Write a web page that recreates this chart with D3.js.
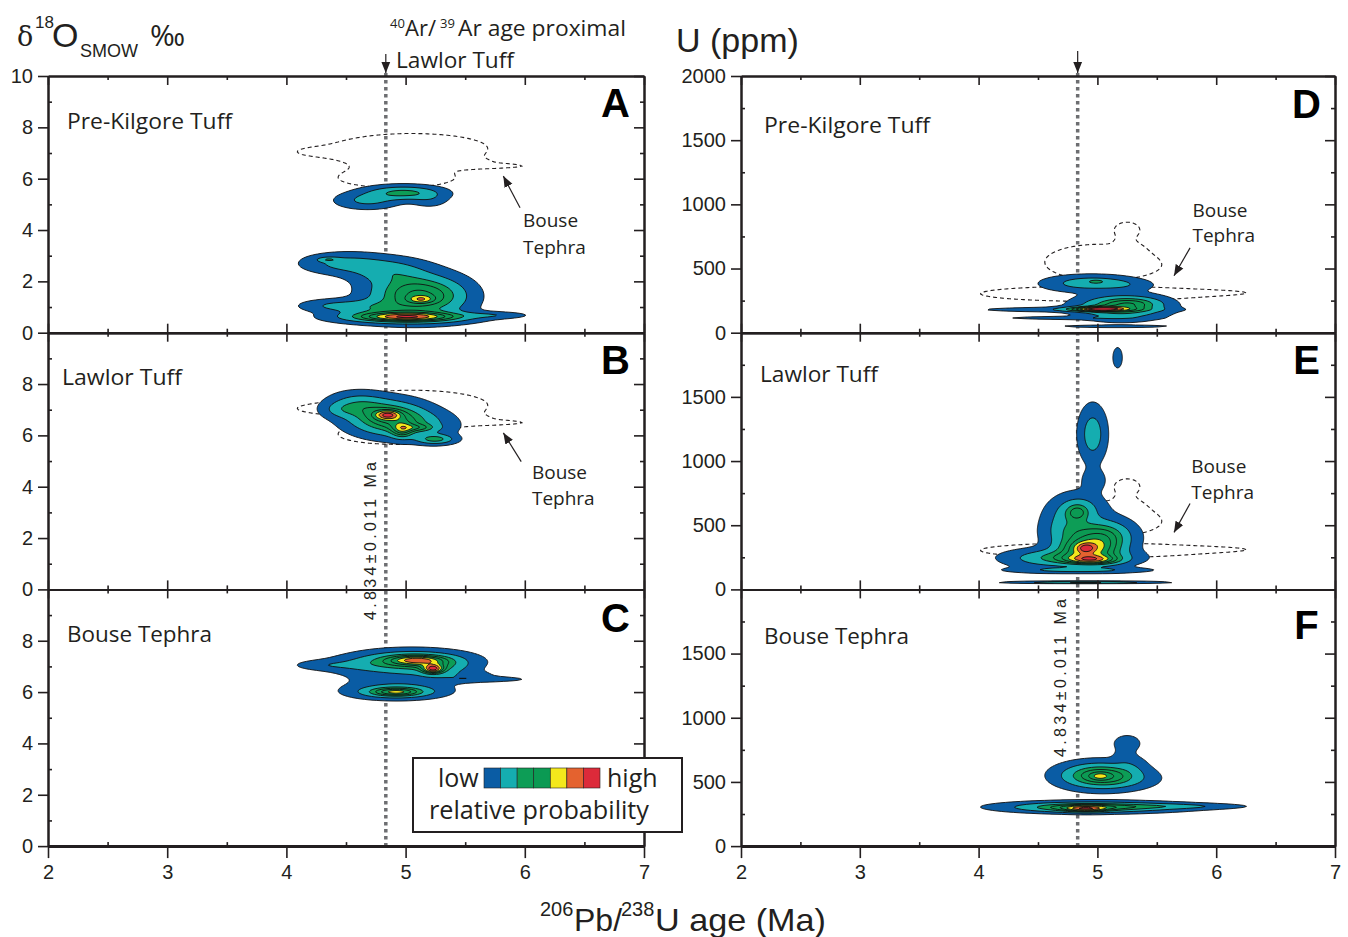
<!DOCTYPE html>
<html>
<head>
<meta charset="utf-8">
<script src="https://cdn.jsdelivr.net/npm/d3@7"></script>
<style>
body{margin:0;background:#fff}
svg{display:block}
.ax .domain{stroke:#231f20;stroke-width:2}
.ax line{stroke:#231f20;stroke-width:1.6}
.ax text{fill:#231f20;font-size:20px;font-family:"Liberation Sans",Arial,sans-serif}
</style>
</head>
<body>
<div id="plot"></div>
<script>
// axis values
var ageTicks = [2,3,4,5,6,7];
var ageMinor = [2.5,3.5,4.5,5.5,6.5];
var oxTicks = [0,2,4,6,8,10];
var uTicks = [0,500,1000,1500,2000];
var arAge = 4.834;

// density levels (grain-weight units) and their fill colours, low -> high
var probLevels = [0.25,1,2,2.8,3.6,4.4,5.2,6];
var probColors = ['#0a5ca4','#15adb0','#0d9d56','#0b9a53','#0b9a53','#f4e81c','#e4622f','#dc2a3a'];
var legendColors = ['#0a5ca4','#15adb0','#0d9d56','#0b9a53','#f4e81c','#e4622f','#dc2a3a'];

// zircon populations: [age Ma, value, age sigma, value sigma, weight]
var preKilgoreO = [
  [4.98,5.45,0.19,0.17,2.3],[4.68,5.15,0.16,0.2,1.2],[5.2,5.2,0.1,0.2,0.6],
  [4.5,2.7,0.22,0.25,1.3],[4.85,2.4,0.2,0.3,1.3],[4.35,2.85,0.06,0.06,1.3],
  [4.38,1.05,0.17,0.15,0.9],[4.7,1.0,0.2,0.2,1.2],[5.05,1.5,0.22,0.5,3.2],
  [5.13,1.3,0.07,0.1,1.8],[5.3,1.4,0.18,0.45,1.3],[5.72,0.68,0.18,0.08,0.8],
  [5.0,0.62,0.28,0.12,4.0],[5.0,0.6,0.35,0.18,1.5]
];
var lawlorO = [
  [4.85,6.7,0.2,0.4,3.4],[4.85,6.8,0.07,0.12,2.8],[4.97,6.2,0.06,0.2,2.3],
  [5.1,6.3,0.1,0.1,1.5],[5.25,5.85,0.1,0.12,2.2],[4.6,7.2,0.15,0.3,1.5],
  [4.45,7.0,0.1,0.2,0.8],[5.1,6.4,0.2,0.35,1.2]
];
var bouseO = [
  [4.32,7.05,0.16,0.12,0.6],[4.6,7.05,0.2,0.2,0.6],[5.05,7.2,0.28,0.25,3.0],
  [5.1,7.25,0.15,0.12,2.8],[5.23,6.9,0.06,0.12,4.3],[5.3,7.0,0.15,0.2,1.0],
  [5.7,6.5,0.2,0.06,0.6],[5.45,6.6,0.2,0.15,0.6],[4.92,6.0,0.13,0.1,2.4],
  [4.92,6.02,0.22,0.17,2.2],[4.95,6.5,0.3,0.35,0.6]
];
var preKilgoreU = [
  [5.0,390,0.2,35,1.3],[4.99,400,0.04,8,1.0],[4.8,380,0.2,40,0.6],[5.25,370,0.15,30,0.5],
  [4.8,180,0.48,12,0.8],[4.75,115,0.35,8,0.6],[5.15,50,0.3,6,0.7],
  [5.2,200,0.22,55,3.0],[5.0,185,0.15,12,4.5],[5.3,230,0.15,30,1.2]
];
var lawlorU = [
  [5.17,1805,0.03,60,0.6],[4.96,1210,0.07,130,1.6],[4.97,850,0.07,60,0.6],
  [4.85,620,0.13,80,1.5],[4.83,600,0.06,40,1.5],[4.72,500,0.12,100,1.0],
  [4.95,420,0.18,70,2.5],[4.9,320,0.15,50,3.5],[4.9,320,0.05,25,1.5],
  [5.1,380,0.13,100,1.5],[4.8,250,0.3,40,2.0],[4.95,230,0.15,25,3.5],
  [4.85,150,0.35,15,1.2],[4.9,55,0.35,5,2.5],[4.55,230,0.2,50,0.6]
];
var bouseU = [
  [5.25,800,0.07,40,0.8],[5.22,700,0.06,40,0.4],[5.02,550,0.2,60,3.6],[5.02,545,0.05,18,1.0],
  [5.2,520,0.2,50,0.6],[5.3,640,0.08,50,0.4],
  [5.0,305,0.45,26,2.4],[4.85,300,0.3,22,1.5],[4.9,290,0.12,16,2.8],[5.65,310,0.35,14,0.9]
];

var panelKeys = ['A','B','C','D','E','F'];
var panelTitles = ['Pre-Kilgore Tuff','Lawlor Tuff','Bouse Tephra','Pre-Kilgore Tuff','Lawlor Tuff','Bouse Tephra'];
var panelGrains = [preKilgoreO, lawlorO, bouseO, preKilgoreU, lawlorU, bouseU];
var panelOutline = [bouseO, bouseO, null, bouseU, bouseU, null];

var width = 1348, height = 937;
var svg = d3.select('#plot').append('svg')
  .attr('width',width).attr('height',height)
  .style('font-family','"Liberation Sans",Arial,sans-serif');
var defs = svg.append('defs');
defs.append('marker').attr('id','head')
  .attr('viewBox','0 0 10 10').attr('refX',10).attr('refY',5)
  .attr('markerWidth',11).attr('markerHeight',11)
  .attr('markerUnits','userSpaceOnUse').attr('orient','auto')
  .append('path').attr('d','M0,1L10,5L0,9z').attr('fill','#231f20');

var colLeft = [48,741], colWidth = [596,594];
var top0 = 76, panelH = 256.7;
var myriad = '"Open Sans","Noto Sans",sans-serif';

// gaussian density on a 1px grid
function kde(grains, x, y, nx, ny){
  var v = new Float64Array(nx*ny);
  grains.forEach(function(g){
    var cx = x(g[0]), cy = y(g[1]);
    var sx = x(g[0]+g[2]) - cx, sy = cy - y(g[1]+g[3]);
    var j0 = Math.max(0,Math.floor(cy-5*sy)), j1 = Math.min(ny-1,Math.ceil(cy+5*sy));
    var i0 = Math.max(0,Math.floor(cx-5*sx)), i1 = Math.min(nx-1,Math.ceil(cx+5*sx));
    for (var j=j0;j<=j1;j++){
      var dy = (j-cy)/sy;
      for (var i=i0;i<=i1;i++){
        var dx = (i-cx)/sx;
        v[j*nx+i] += g[4]*Math.exp(-0.5*(dx*dx+dy*dy));
      }
    }
  });
  return v;
}

// age marker (dotted) under everything
[0,1].forEach(function(c){
  var x = d3.scaleLinear().domain([2,7]).range([colLeft[c],colLeft[c]+colWidth[c]]);
  svg.append('line')
    .attr('x1',x(arAge)).attr('x2',x(arAge))
    .attr('y1',73).attr('y2',top0+3*panelH)
    .attr('stroke','#6d6e71').attr('stroke-width',3.5).attr('stroke-dasharray','3.5,3.5');
  svg.append('line')
    .attr('x1',x(arAge)).attr('x2',x(arAge))
    .attr('y1',c===0?54:51).attr('y2',73)
    .attr('stroke','#231f20').attr('stroke-width',1.2)
    .attr('marker-end','url(#head)');
});

var titleDy = [45,45,45,49,42,47];
var letterDy = [41,41,43,42,41,50];
var titleW = [165,120,145,166,118,145];

panelKeys.forEach(function(key,k){
  var col = k<3?0:1, row = k%3;
  var maxV = col===0?10:2000;
  var ticks = col===0?oxTicks:uTicks;
  var step = ticks[1]-ticks[0];
  var w = colWidth[col];
  var x = d3.scaleLinear().domain([2,7]).range([0,w]);
  var y = d3.scaleLinear().domain([0,maxV]).range([panelH,0]);
  var g = svg.append('g').attr('transform','translate('+colLeft[col]+','+(top0+row*panelH)+')');

  defs.append('clipPath').attr('id','clip'+key)
    .append('rect').attr('width',w).attr('height',panelH);
  var plotG = g.append('g').attr('clip-path','url(#clip'+key+')');

  var nx = Math.round(w)+1, ny = Math.round(panelH)+1;
  var path = d3.geoPath(d3.geoTransform({point:function(px,py){this.stream.point(px-0.5,py-0.5);}}));

  if (panelOutline[k]){
    var ov = kde(panelOutline[k],x,y,nx,ny);
    plotG.selectAll('path.outline')
      .data(d3.contours().size([nx,ny]).thresholds([probLevels[0]])(ov))
      .enter().append('path').attr('class','outline')
      .attr('d',path).attr('fill','none')
      .attr('stroke','#231f20').attr('stroke-width',1.1).attr('stroke-dasharray','4,3');
  }

  var v = kde(panelGrains[k],x,y,nx,ny);
  plotG.selectAll('path.band')
    .data(d3.contours().size([nx,ny]).thresholds(probLevels)(v))
    .enter().append('path').attr('class','band')
    .attr('d',path)
    .attr('fill',function(d,i){return probColors[i];})
    .attr('stroke','#111').attr('stroke-width',0.9);

  // axes
  var major = ticks.filter(function(t){return row===0 || t<maxV;});
  var minor = d3.range(step/2,maxV,step);
  g.append('g').attr('class','ax')
    .call(d3.axisLeft(y).tickValues(major).tickSize(10).tickSizeOuter(0).tickPadding(5).tickFormat(d3.format('d')));
  g.append('g').attr('class','ax')
    .call(d3.axisLeft(y).tickValues(minor).tickSize(-4).tickSizeOuter(0).tickFormat(''));
  g.append('g').attr('class','ax').attr('transform','translate('+w+',0)')
    .call(d3.axisRight(y).tickValues(ticks).tickSize(-10).tickSizeOuter(0).tickFormat(''));
  g.append('g').attr('class','ax').attr('transform','translate('+w+',0)')
    .call(d3.axisRight(y).tickValues(minor).tickSize(-4).tickSizeOuter(0).tickFormat(''));
  g.append('g').attr('class','ax')
    .call(d3.axisTop(x).tickValues(ageTicks).tickSize(-9).tickSizeOuter(0).tickFormat(''));
  g.append('g').attr('class','ax')
    .call(d3.axisTop(x).tickValues(ageMinor).tickSize(-4).tickSizeOuter(0).tickFormat(''));
  if (row===2){
    var bx = g.append('g').attr('class','ax').attr('transform','translate(0,'+panelH+')')
      .call(d3.axisBottom(x).tickValues(ageTicks).tickSize(12).tickSizeOuter(0).tickPadding(7).tickFormat(d3.format('d')));
    bx.select('.domain').style('stroke-width',3);
  } else {
    g.append('g').attr('class','ax').attr('transform','translate(0,'+panelH+')')
      .call(d3.axisBottom(x).tickValues(ageTicks).tickSize(-9).tickSizeOuter(0).tickFormat(''));
  }
  g.append('g').attr('class','ax').attr('transform','translate(0,'+panelH+')')
    .call(d3.axisBottom(x).tickValues(ageMinor).tickSize(-4).tickSizeOuter(0).tickFormat(''));

  // labels
  g.append('text')
    .attr('x',col===0?(row===1?14:19):(row===1?19:23)).attr('y',titleDy[k])
    .attr('dy','0.35em')
    .attr('textLength',titleW[k]).attr('lengthAdjust','spacingAndGlyphs')
    .style('font-family',myriad).style('font-size','22px').attr('fill','#231f20')
    .text(panelTitles[k]);
  g.append('text')
    .attr('x',x(6.76)).attr('y',letterDy[k])
    .attr('text-anchor','middle')
    .style('font-size','40px').style('font-weight','bold').attr('fill','#000')
    .text(key);
});

// Bouse Tephra pointers: [col, row, text x, text y1, text y2, tail x, tail y, tip x, tip y]
var bouseNotes = [
  [0,0,5.985,4.12,3.07,5.96,4.87,5.82,6.1],
  [0,1,6.06,4.32,3.27,5.97,4.98,5.82,6.1],
  [1,0,5.8,903,708,5.78,661,5.645,444],
  [1,1,5.79,910,708,5.78,669,5.645,444]
];
bouseNotes.forEach(function(n){
  var maxV = n[0]===0?10:2000;
  var x = d3.scaleLinear().domain([2,7]).range([colLeft[n[0]],colLeft[n[0]]+colWidth[n[0]]]);
  var y = d3.scaleLinear().domain([0,maxV]).range([top0+(n[1]+1)*panelH, top0+n[1]*panelH]);
  svg.append('text').attr('x',x(n[2])).attr('y',y(n[3]))
    .style('font-family',myriad).style('font-size','19px').attr('fill','#231f20').text('Bouse');
  svg.append('text').attr('x',x(n[2])).attr('y',y(n[4]))
    .style('font-family',myriad).style('font-size','19px').attr('fill','#231f20').text('Tephra');
  svg.append('line').attr('x1',x(n[5])).attr('y1',y(n[6])).attr('x2',x(n[7])).attr('y2',y(n[8]))
    .attr('stroke','#231f20').attr('stroke-width',1.2).attr('marker-end','url(#head)');
});

// rotated age text
[[370,541],[1060,678]].forEach(function(p){
  svg.append('text')
    .attr('transform','translate('+p[0]+','+p[1]+') rotate(-90)')
    .attr('text-anchor','middle').attr('dy','0.35em')
    .style('font-size','16px').attr('fill','#231f20')
    .attr('textLength',158).attr('lengthAdjust','spacing')
    .text('4.834\u00b10.011 Ma');
});

// y titles
var oT = svg.append('text').attr('fill','#231f20');
oT.append('tspan').attr('x',17).attr('y',46).style('font-family','"DejaVu Serif",serif').style('font-size','27px').text('\u03b4');
oT.append('tspan').attr('x',35).attr('y',28).style('font-size','17px').text('18');
oT.append('tspan').attr('x',52).attr('y',47).style('font-size','34px').text('O');
oT.append('tspan').attr('x',80).attr('y',57).style('font-size','18px').text('SMOW');
oT.append('tspan').attr('x',150).attr('y',46).style('font-size','30px').style('font-family',myriad).text('\u2030');

svg.append('text').attr('x',676).attr('y',52).style('font-size','34px').attr('fill','#231f20').text('U (ppm)');

// Ar-Ar note
var ar = svg.append('text').attr('fill','#231f20').style('font-family',myriad);
ar.append('tspan').attr('x',390).attr('y',28).style('font-size','13px').text('40');
ar.append('tspan').attr('x',405).attr('y',36).style('font-size','22px').text('Ar/');
ar.append('tspan').attr('x',440).attr('y',28).style('font-size','13px').text('39');
ar.append('tspan').attr('x',458).attr('y',36).style('font-size','22px')
  .attr('textLength',168).attr('lengthAdjust','spacingAndGlyphs').text('Ar age proximal');
svg.append('text').attr('x',396).attr('y',68).style('font-family',myriad).style('font-size','22px')
  .attr('fill','#231f20').attr('textLength',118).attr('lengthAdjust','spacingAndGlyphs').text('Lawlor Tuff');

// x title
var xt = svg.append('text').attr('fill','#231f20').style('font-family','"Liberation Sans Narrow","Liberation Sans",Arial,sans-serif');
xt.append('tspan').attr('x',540).attr('y',916).style('font-size','20px').text('206');
xt.append('tspan').attr('x',574).attr('y',931).style('font-size','32px').text('Pb/');
xt.append('tspan').attr('x',621).attr('y',916).style('font-size','20px').text('238');
xt.append('tspan').attr('x',655).attr('y',931).style('font-size','32px')
  .attr('textLength',171).attr('lengthAdjust','spacingAndGlyphs').text('U age (Ma)');

// legend
var lg = svg.append('g').attr('transform','translate(413,758)');
lg.append('rect').attr('width',269).attr('height',74).attr('fill','#fff').attr('stroke','#231f20').attr('stroke-width',2);
lg.append('text').attr('x',25).attr('y',29).style('font-family',myriad).style('font-size','25px').attr('fill','#231f20').text('low');
lg.append('text').attr('x',194).attr('y',29).style('font-family',myriad).style('font-size','25px').attr('fill','#231f20').text('high');
var sw = d3.scaleBand().domain(d3.range(legendColors.length)).range([71,187]);
lg.selectAll('rect.sw').data(legendColors).enter().append('rect').attr('class','sw')
  .attr('x',function(d,i){return sw(i);}).attr('y',10)
  .attr('width',sw.bandwidth()).attr('height',20)
  .attr('fill',function(d){return d;}).attr('stroke','#231f20').attr('stroke-width',0.6);
lg.append('text').attr('x',16).attr('y',61).style('font-family',myriad).style('font-size','25px')
  .attr('fill','#231f20').attr('textLength',220).attr('lengthAdjust','spacingAndGlyphs').text('relative probability');
</script>
</body>
</html>
